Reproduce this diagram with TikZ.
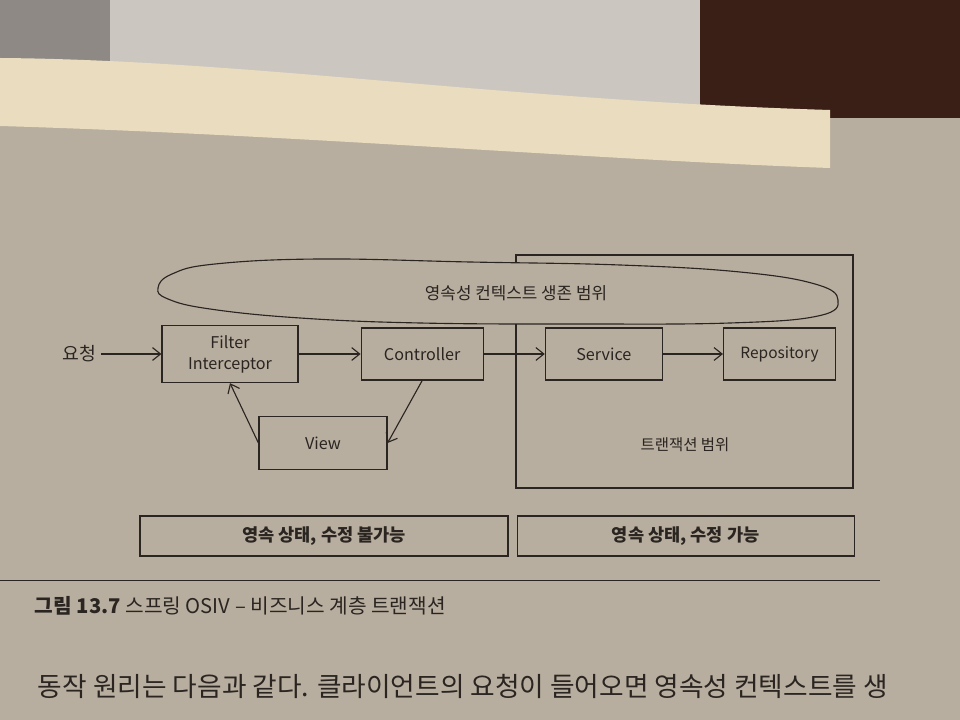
\documentclass[tikz,border=0pt]{standalone}
\usepackage{fontspec}
\setmainfont{Noto Sans CJK KR}
\usetikzlibrary{positioning, arrows.meta}

\definecolor{paper}{HTML}{B8AE9F}
\definecolor{paperlit}{HTML}{EADDBF}
\definecolor{sheet}{HTML}{CCC6C0}
\definecolor{sheetdark}{HTML}{8E8985}
\definecolor{desk}{HTML}{3A1F16}
\definecolor{ink}{HTML}{2A2521}

\begin{document}
\begin{tikzpicture}[x=0.025cm, y=-0.025cm, >={Straight Barb[length=2mm,width=3.2mm]}]
        \tikzstyle{comp}=[draw=ink, line width=0.8pt, rectangle, minimum height=1.3cm, text=ink, align=center, font=\fontsize{11.5}{15}\selectfont];
        \tikzstyle{band}=[draw=ink, line width=0.8pt, rectangle, minimum height=1cm, text=ink, font=\fontsize{12.5}{14}\selectfont\bfseries];
        \tikzstyle{note}=[text=ink, font=\fontsize{12}{14}\selectfont];
        \tikzstyle{flow}=[->, ink, line width=0.8pt];

        \useasboundingbox (0,0) rectangle (960,720);
        \fill[paper] (0,0) rectangle (960,720);
        \fill[sheetdark] (0,0) rectangle (110,70);
        \fill[sheet] (110,0) rectangle (700,130);
        \fill[desk] (700,0) rectangle (960,118);
        \fill[paperlit] (0,58) .. controls (250,60) and (500,100) .. (830,110) -- (830,168) .. controls (600,160) and (300,135) .. (0,126) -- cycle;

        \node[draw=ink, line width=0.8pt, minimum width=8.425cm, minimum height=5.825cm, inner sep=0] (tx) at (684.5,371.5) {};
        \node[note, font=\fontsize{11}{13}\selectfont] (txlabel) at (685,445) {트랜잭션 범위};

        \draw[ink, line width=0.8pt, fill=paper] plot[smooth cycle, tension=0.7] coordinates {(158,288) (172,274) (215,264) (320,259) (470,262) (620,265) (740,272) (815,284) (838,300) (818,316) (730,323) (580,324) (420,323) (300,318) (210,309) (168,299)};
        \node[note] (pclabel) at (516,293) {영속성 컨텍스트 생존 범위};

        \node[comp, minimum width=3.4cm, minimum height=1.43cm] (filter) at (230,354) {Filter\\Interceptor};
        \node[comp, minimum width=3.05cm, right=1.55cm of filter] (controller) {Controller};
        \node[comp, minimum width=2.925cm, right=1.525cm of controller] (service) {Service};
        \node[comp, minimum width=2.8cm, right=1.5cm of service, font=\fontsize{11}{13}\selectfont] (repository) {Repository};
        \node[comp, minimum width=3.2cm, minimum height=1.325cm] (view) at (323,443) {View};
        \node[note, font=\fontsize{13}{15}\selectfont, left=1.5cm of filter] (request) {요청};

        \path[flow]
        (request) edge (filter)
        (filter) edge (controller)
        (controller) edge (service)
        (service) edge (repository)
        (controller.south) edge (view.east)
        (view.west) edge (filter.south);

        \node[band, minimum width=9.2cm] (detached) at (324,536) {영속 상태, 수정 불가능};
        \node[band, minimum width=8.425cm, right=0.2cm of detached] (managed) {영속 상태, 수정 가능};

        \draw[ink, line width=0.6pt] (0,580) -- (880,580);
        \node[anchor=west, text=ink, font=\fontsize{14.4}{17}\selectfont] (caption) at (30,606) {\textbf{그림 13.7} 스프링 OSIV – 비즈니스 계층 트랜잭션};
        \node[anchor=west, text=ink, font=\fontsize{19}{22}\selectfont] (bodytext) at (33,686) {동작 원리는 다음과 같다. 클라이언트의 요청이 들어오면 영속성 컨텍스트를 생};
      \end{tikzpicture}
\end{document}
